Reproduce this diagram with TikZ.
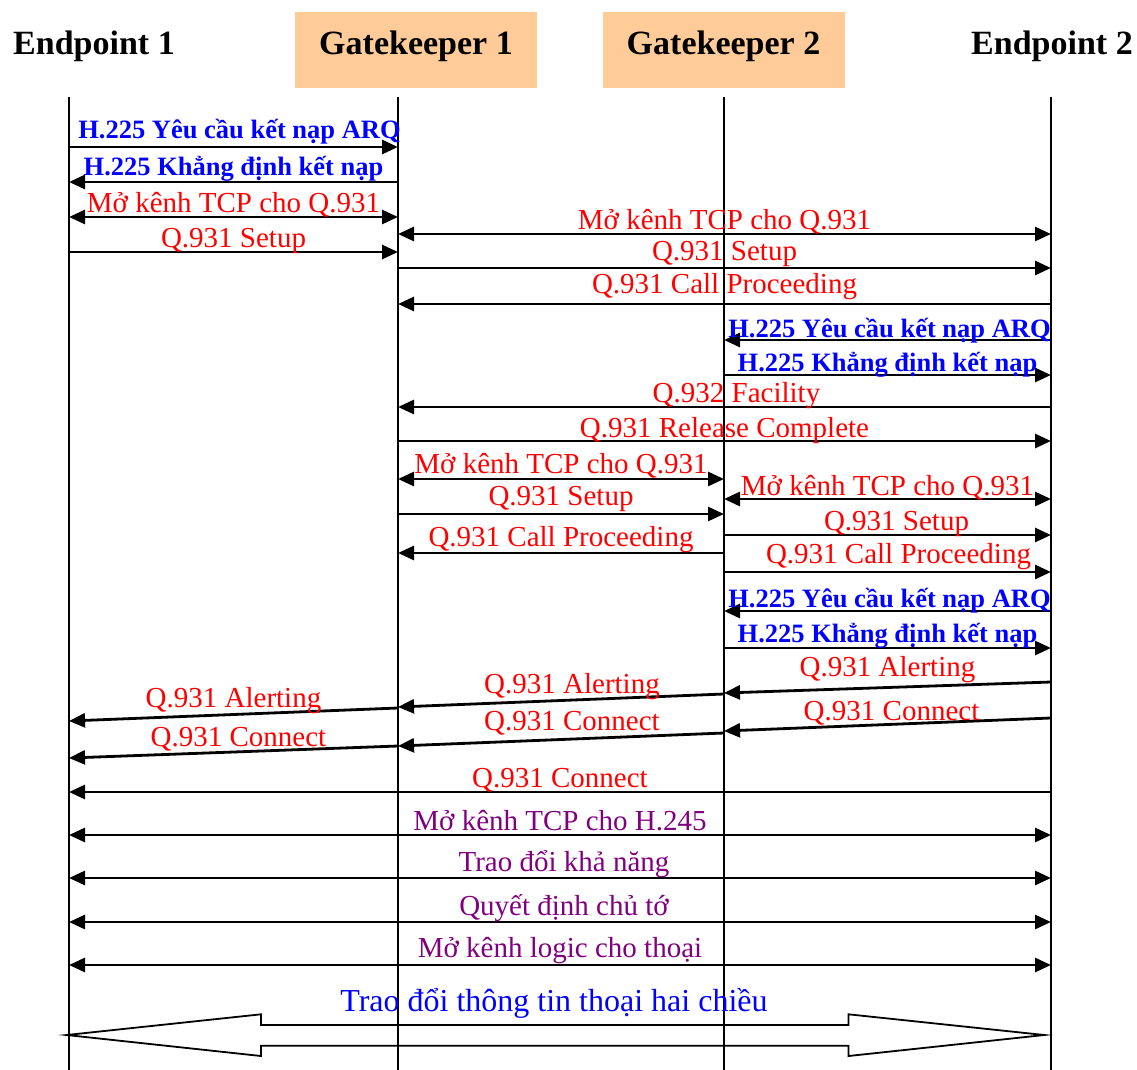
\documentclass[tikz,border=0pt]{standalone}
\usepackage{fontspec}
\setmainfont{Liberation Serif}
\usetikzlibrary{arrows.meta}
\definecolor{peach}{RGB}{255,204,153}
\definecolor{msgpurple}{RGB}{128,0,128}

\begin{document}
\begin{tikzpicture}[
  x=1pt, y=-1pt,
  hdr/.style={minimum width=242pt, minimum height=75.5pt, inner sep=0pt, text height=25pt, text depth=15pt, font=\fontsize{34}{36}\selectfont\bfseries},
  gk/.style={hdr, fill=peach},
  life/.style={line width=1.2pt},
  msg/.style={line width=2.8pt, -{Triangle[length=16pt, width=14pt]}},
  duplex/.style={line width=2.8pt, {Triangle[length=16pt, width=14pt]}-{Triangle[length=16pt, width=14pt]}},
  lbl/.style={anchor=base, inner sep=0pt, text=red, font=\fontsize{29}{31}\selectfont, yshift=5pt},
  ras/.style={lbl, text=blue, font=\fontsize{26.5}{28}\selectfont\bfseries},
  h245lbl/.style={lbl, text=msgpurple},
  bigarrow/.style={line width=1.8pt, line join=miter},
]
\useasboundingbox (0,0) rectangle (1137,1070);

% headers
\node[hdr] (e1) at (94,50) {Endpoint 1};
\node[gk] (g1) at (416,50) {Gatekeeper 1};
\node[gk] (g2) at (723.5,50) {Gatekeeper 2};
\node[hdr] (e2) at (1052,50) {Endpoint 2};

% lifelines
\coordinate (l1) at (69,97);
\coordinate (l2) at (398,97);
\coordinate (l3) at (724,97);
\coordinate (l4) at (1051,97);
\foreach \l in {l1,l2,l3,l4}
  \draw[life] (\l) -- (\l |- 0,1070);

% admission and call setup
\draw[msg] (l1 |- 0,147) -- node[ras, xshift=6pt, yshift=3pt] {H.225 Yêu cầu kết nạp ARQ} (l2 |- 0,147);
\draw[msg] (l2 |- 0,182) -- node[ras, yshift=2pt] {H.225 Khẳng định kết nạp} (l1 |- 0,182);
\draw[duplex] (l1 |- 0,217) -- node[lbl] {Mở kênh TCP cho Q.931} (l2 |- 0,217);
\draw[msg] (l1 |- 0,252) -- node[lbl] {Q.931 Setup} (l2 |- 0,252);
\draw[duplex] (l2 |- 0,234) -- node[lbl] {Mở kênh TCP cho Q.931} (l4 |- 0,234);
\draw[msg] (l2 |- 0,268) -- node[lbl, yshift=3pt] {Q.931 Setup} (l4 |- 0,268);
\draw[msg] (l4 |- 0,304) -- node[lbl, yshift=6pt] {Q.931 Call Proceeding} (l2 |- 0,304);
\draw[msg] (l4 |- 0,340) -- node[ras, xshift=2pt, yshift=-2pt] {H.225 Yêu cầu kết nạp ARQ} (l3 |- 0,340);
\draw[msg] (l3 |- 0,375) -- node[ras, yshift=-1pt] {H.225 Khẳng định kết nạp} (l4 |- 0,375);
\draw[msg] (l4 |- 0,407) -- node[lbl, xshift=12pt] {Q.932 Facility} (l2 |- 0,407);
\draw[msg] (l2 |- 0,441) -- node[lbl, yshift=-1pt] {Q.931 Release Complete} (l4 |- 0,441);

% routed through gatekeeper 2
\draw[duplex] (l2 |- 0,479) -- node[lbl, yshift=1pt] {Mở kênh TCP cho Q.931} (l3 |- 0,479);
\draw[duplex] (l3 |- 0,499) -- node[lbl, yshift=-1pt] {Mở kênh TCP cho Q.931} (l4 |- 0,499);
\draw[msg] (l2 |- 0,514) -- node[lbl, yshift=4pt] {Q.931 Setup} (l3 |- 0,514);
\draw[msg] (l3 |- 0,535) -- node[lbl, xshift=9pt] {Q.931 Setup} (l4 |- 0,535);
\draw[msg] (l3 |- 0,553) -- node[lbl, yshift=2pt] {Q.931 Call Proceeding} (l2 |- 0,553);
\draw[msg] (l3 |- 0,572) -- node[lbl, xshift=11pt, yshift=4pt] {Q.931 Call Proceeding} (l4 |- 0,572);
\draw[msg] (l4 |- 0,611) -- node[ras, xshift=2pt, yshift=-1pt] {H.225 Yêu cầu kết nạp ARQ} (l3 |- 0,611);
\draw[msg] (l3 |- 0,648) -- node[ras, yshift=1pt] {H.225 Khẳng định kết nạp} (l4 |- 0,648);

% alerting and connect
\draw[msg] (l4 |- 0,682) -- node[lbl, yshift=6pt] {Q.931 Alerting} (l3 |- 0,693);
\draw[msg] (l3 |- 0,694) -- node[lbl, xshift=11pt, yshift=2pt] {Q.931 Alerting} (l2 |- 0,707);
\draw[msg] (l2 |- 0,708) -- node[lbl, yshift=2pt] {Q.931 Alerting} (l1 |- 0,721);
\draw[msg] (l4 |- 0,718) -- node[lbl, xshift=4pt, yshift=-1pt] {Q.931 Connect} (l3 |- 0,731);
\draw[msg] (l3 |- 0,733) -- node[lbl, xshift=11pt, yshift=4pt] {Q.931 Connect} (l2 |- 0,746);
\draw[msg] (l2 |- 0,746) -- node[lbl, xshift=5pt, yshift=1pt] {Q.931 Connect} (l1 |- 0,758);
\draw[msg] (l4 |- 0,792) -- node[lbl] {Q.931 Connect} (l1 |- 0,792);

% H.245
\draw[duplex] (l1 |- 0,835) -- node[h245lbl] {Mở kênh TCP cho H.245} (l4 |- 0,835);
\draw[duplex] (l1 |- 0,878) -- node[h245lbl, xshift=4pt, yshift=2pt] {Trao đổi khả năng} (l4 |- 0,878);
\draw[duplex] (l1 |- 0,922) -- node[h245lbl, xshift=4pt, yshift=2pt] {Quyết định chủ tớ} (l4 |- 0,922);
\draw[duplex] (l1 |- 0,965) -- node[h245lbl, yshift=3pt] {Mở kênh logic cho thoại} (l4 |- 0,965);

% media
\node[anchor=base, inner sep=0pt, text=blue, font=\fontsize{32}{34}\selectfont] (media) at (554,1011) {Trao đổi thông tin thoại hai chiều};
\draw[bigarrow] (66.7,1035) -- (261,1014.3) -- (261,1025) -- (848.5,1025) -- (848.5,1014.3)
  -- (1044.2,1035) -- (848.5,1056) -- (848.5,1045.7) -- (261,1045.7) -- (261,1056) -- cycle;

\end{tikzpicture}
\end{document}
